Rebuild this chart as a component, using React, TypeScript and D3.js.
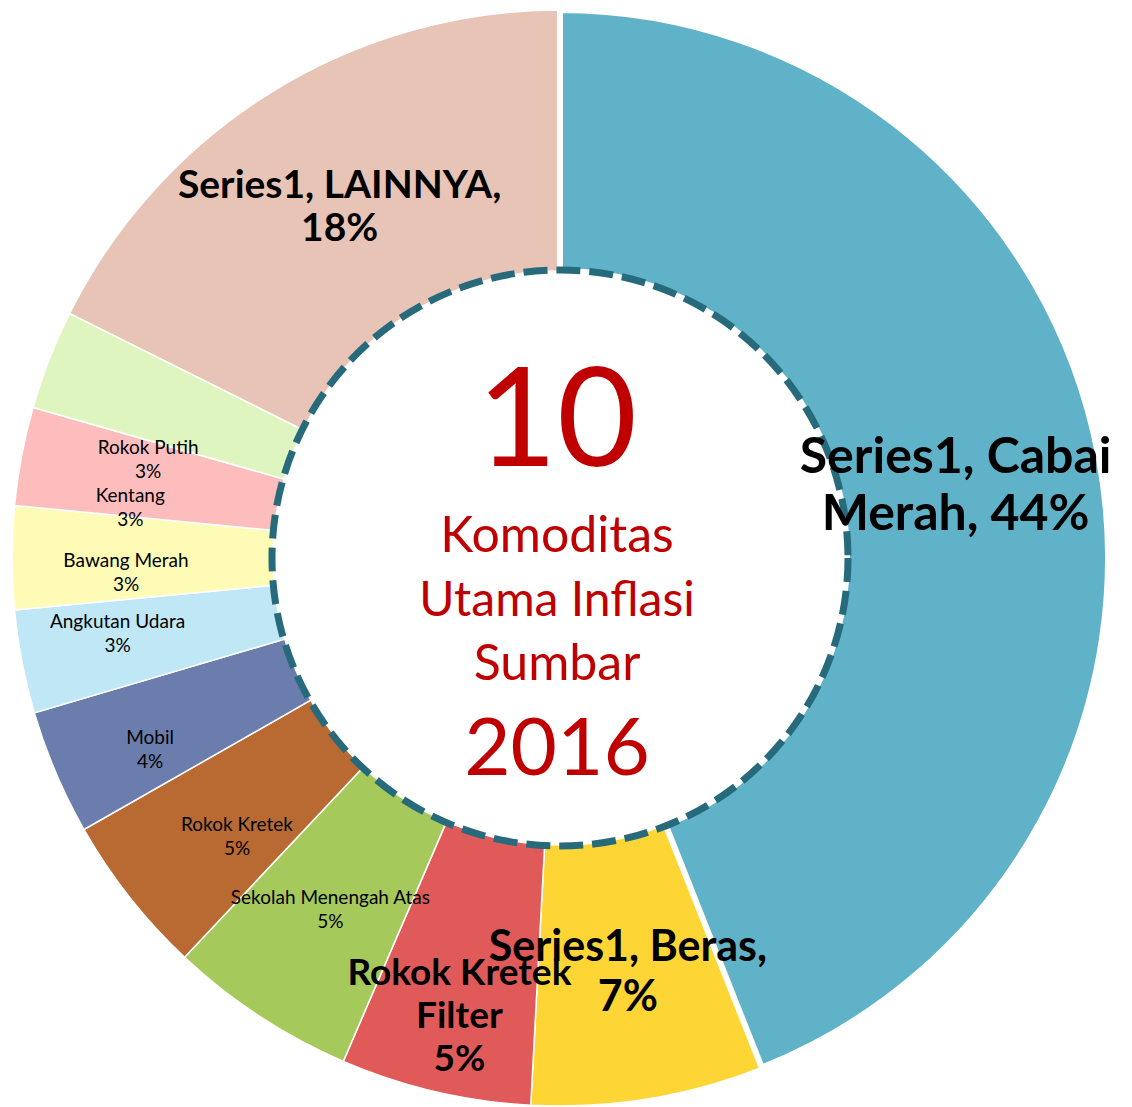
import React, { useEffect, useRef } from 'react';
import * as d3 from 'd3';

// slices clockwise from 12 o'clock
const categories = [
    'Cabai Merah', 'Beras', 'Rokok Kretek Filter', 'Sekolah Menengah Atas', 'Rokok Kretek',
    'Mobil', 'Angkutan Udara', 'Bawang Merah', 'Kentang', 'Rokok Putih', 'LAINNYA'
];
const values = [44.0, 6.85, 5.62, 5.54, 4.74, 3.69, 3.05, 3.04, 2.90, 2.93, 17.64];
const colors = [
    '#5fb2c8', '#fdd535', '#e05a5a', '#a6c95c', '#b86a32',
    '#6b7dad', '#bfe7f5', '#fefbb6', '#fdbdbd', '#dff5c0', '#e8c4b7'
];
const labelLines = [
    ['Series1, Cabai', 'Merah, 44%'],
    ['Series1, Beras,', '7%'],
    ['Rokok Kretek', 'Filter', '5%'],
    ['Sekolah Menengah Atas', '5%'],
    ['Rokok Kretek', '5%'],
    ['Mobil', '4%'],
    ['Angkutan Udara', '3%'],
    ['Bawang Merah', '3%'],
    ['Kentang', '3%'],
    ['Rokok Putih', '3%'],
    ['Series1, LAINNYA,', '18%']
];
const centerLines = ['10', 'Komoditas', 'Utama Inflasi', 'Sumbar', '2016'];

// label placement: shift from the ring centroid, font size, line height, bold
const labelLayout = [
    { dx: -12, dy: 3, size: 50, lh: 57, bold: true },
    { dx: 1, dy: 3, size: 43, lh: 50, bold: true },
    { dx: -6, dy: 53, size: 37, lh: 43, bold: true },
    { dx: -2, dy: 4, size: 19, lh: 24, bold: false },
    { dx: 3, dy: 21, size: 19, lh: 24, bold: false },
    { dx: -28, dy: 29, size: 19, lh: 24, bold: false },
    { dx: -35, dy: -3, size: 19, lh: 24, bold: false },
    { dx: -19, dy: 14, size: 19, lh: 24, bold: false },
    { dx: -22, dy: 26, size: 19, lh: 24, bold: false },
    { dx: -25, dy: 51, size: 19, lh: 24, bold: false },
    { dx: -2, dy: 0, size: 39, lh: 43, bold: true }
];
const centerLayout = [
    { y: 466, size: 138 },
    { y: 552, size: 50 },
    { y: 616, size: 48 },
    { y: 680, size: 50 },
    { y: 775, size: 80 }
];

const App = () => {
    const ref = useRef<SVGSVGElement>(null);

    useEffect(() => {
        const width = 1132;
        const height = 1107;
        const cx = 560;
        const cy = 558;
        const outer = 548;
        const inner = 287;
        const font = 'Lato, "Open Sans", sans-serif';

        const svg = d3.select(ref.current)
            .attr('width', width)
            .attr('height', height)
            .style('position', 'absolute')
            .style('left', 0)
            .style('top', 0);
        svg.selectAll('*').remove();

        const pie = d3.pie<number>().sort(null).value(d => d);
        const arcs = pie(values);
        const arc = d3.arc<d3.PieArcDatum<number>>().innerRadius(inner).outerRadius(outer);
        const mid = d3.arc<d3.PieArcDatum<number>>().innerRadius(415).outerRadius(415);

        const g = svg.append('g').attr('transform', `translate(${cx},${cy})`);

        g.selectAll('path.slice')
            .data(arcs)
            .join('path')
            .attr('class', 'slice')
            .attr('d', arc)
            .attr('fill', (d, i) => colors[i])
            .attr('stroke', '#fff')
            .attr('stroke-width', 1.5);

        // the big slice has a heavier white border
        g.append('path')
            .attr('d', arc(arcs[0]))
            .attr('fill', colors[0])
            .attr('stroke', '#fff')
            .attr('stroke-width', 6);

        g.append('circle')
            .attr('r', 288)
            .attr('fill', 'none')
            .attr('stroke', '#266a7b')
            .attr('stroke-width', 7)
            .attr('stroke-dasharray', '24 9');

        arcs.forEach((d, i) => {
            const [mx, my] = mid.centroid(d);
            const lay = labelLayout[i];
            const lines = labelLines[i];
            const t = g.append('text')
                .attr('text-anchor', 'middle')
                .attr('font-family', font)
                .attr('font-size', lay.size)
                .attr('font-weight', lay.bold ? 700 : 400)
                .attr('fill', '#000');
            lines.forEach((line, k) => {
                t.append('tspan')
                    .attr('x', mx + lay.dx)
                    .attr('y', my + lay.dy + (k - (lines.length - 1) / 2) * lay.lh + 0.36 * lay.size)
                    .text(line);
            });
        });

        centerLines.forEach((line, k) => {
            svg.append('text')
                .attr('x', 557)
                .attr('y', centerLayout[k].y)
                .attr('text-anchor', 'middle')
                .attr('font-family', font)
                .attr('font-size', centerLayout[k].size)
                .attr('fill', '#c00000')
                .text(line);
        });
    }, []);

    return <svg ref={ref} />;
};

export default App;
